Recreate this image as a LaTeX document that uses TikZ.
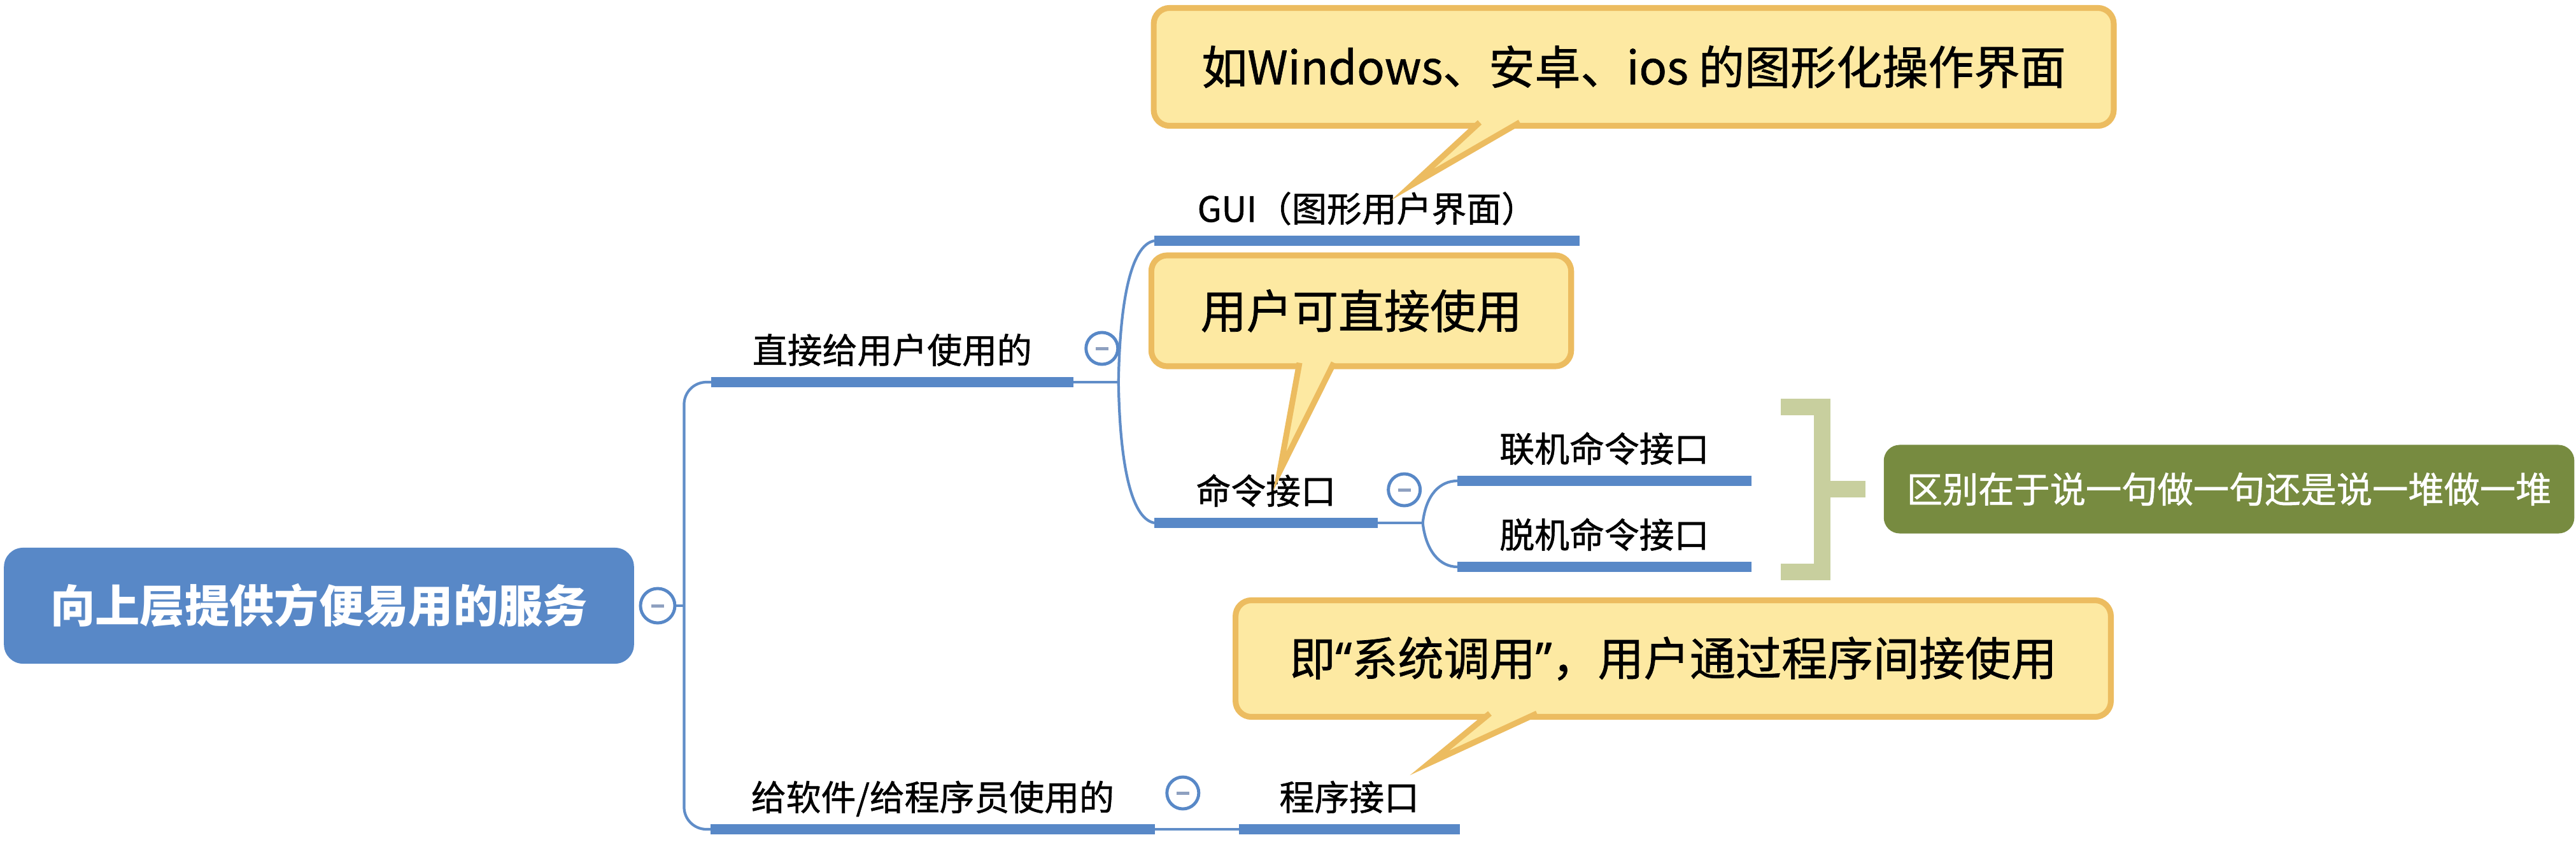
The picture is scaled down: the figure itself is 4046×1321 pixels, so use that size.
\documentclass[tikz,border=0pt]{standalone}
\usepackage{fontspec}
\setmainfont{Noto Sans CJK SC}
\newfontfamily\heavyfont[FakeBold=1]{Noto Sans CJK SC}
\newfontfamily\quotefont[FakeBold=1]{Noto Sans}
\usetikzlibrary{positioning, calc}

\definecolor{mapblue}{RGB}{88,136,199}
\definecolor{linkblue}{RGB}{96,141,200}
\definecolor{minusgray}{RGB}{142,160,192}
\definecolor{notefill}{RGB}{253,233,162}
\definecolor{noteedge}{RGB}{236,188,96}
\definecolor{bracegreen}{RGB}{200,207,158}
\definecolor{sumgreen}{RGB}{119,139,64}

\begin{document}
\begin{tikzpicture}[
  x=0.01cm, y=-0.01cm,
  root/.style={fill=mapblue, text=white, rounded corners=0.3cm, minimum width=9.89cm, minimum height=1.82cm, font=\bfseries\fontsize{20}{24}\selectfont},
  topic/.style={anchor=south west, inner xsep=0pt, inner ysep=0.29cm, text depth=0pt, font=\heavyfont\fontsize{15.6}{18}\selectfont},
  bar/.style={draw=mapblue, line width=4.3pt},
  link/.style={draw=linkblue, line width=1.2pt},
  dot/.style={circle, draw=mapblue, fill=white, line width=1.4pt, minimum size=0.5cm, inner sep=0pt,
    path picture={\fill[minusgray] ($(path picture bounding box.center)+(-10,-2.5)$) rectangle ++(20,5);}},
  note/.style={draw=noteedge, fill=notefill, line width=2.6pt, rounded corners=0.25cm, font=\heavyfont\fontsize{20.5}{24}\selectfont},
  notetip/.style={draw=noteedge, fill=notefill, line width=2.6pt},
  brace/.style={draw=bracegreen, line width=7.4pt},
  summary/.style={fill=sumgreen, text=white, rounded corners=0.25cm, minimum width=10.84cm, minimum height=1.39cm, font=\heavyfont\fontsize{16}{20}\selectfont}
]
\useasboundingbox (0,0) rectangle (4046,1321);

% Root topic
\node[root] (root) at (501,951) {向上层提供方便易用的服务};
\node[dot, minimum size=0.54cm, right=0.07cm of root] (rootdot) {};

% Main branches
\node[topic, minimum width=5.67cm] (direct) at (1117,600) {直接给用户使用的};
\node[topic, minimum width=6.96cm] (soft) at (1116,1302) {给软件/给程序员使用的};

% Sub topics
\node[topic, minimum width=6.66cm] (gui) at (1813,378) {GUI（图形用户界面）};
\node[topic, minimum width=3.49cm] (cmd) at (1813,821) {命令接口};
\node[topic, minimum width=4.60cm] (online) at (2289,755) {联机命令接口};
\node[topic, minimum width=4.60cm] (offline) at (2289,890) {脱机命令接口};
\node[topic, minimum width=3.45cm, right=1.32cm of soft.south east, anchor=south west] (prog) {程序接口};

% Connectors
\coordinate (rootfork) at ($(rootdot.east)+(12,0)$);
\draw[link] (rootdot.east) -- (rootfork);
\draw[link, rounded corners=0.35cm] (rootfork) |- (direct.south west);
\draw[link, rounded corners=0.35cm] (rootfork) |- (soft.south west);

\draw[link] (direct.south east) -- ++(71,0) coordinate (directfork);
\draw[link] (directfork) .. controls +(2,-122) and +(-38,7) .. (gui.south west);
\draw[link] (directfork) .. controls +(2,122) and +(-38,-7) .. (cmd.south west);

\draw[link] (cmd.south east) -- ++(71,0) coordinate (cmdfork);
\draw[link] (cmdfork) .. controls +(5,-45) and +(-27,0) .. (online.south west);
\draw[link] (cmdfork) .. controls +(5,45) and +(-27,0) .. (offline.south west);

\draw[link] (soft.south east) -- (prog.south west);

% Underlines
\foreach \t in {direct,soft,gui,cmd,online,offline,prog}
  \draw[bar] (\t.south west) -- (\t.south east);

% Collapse buttons
\node[dot] (directdot) at ($(direct.south east)+(45,-53)$) {};
\node[dot] (cmddot) at ($(cmd.south east)+(42,-52)$) {};
\node[dot] (softdot) at ($(soft.south east)+(44,-57)$) {};

% Summary bracket
\coordinate (bracetop) at (2797,639);
\coordinate (bracebot) at (2797,898);
\coordinate (bracespine) at (2862,768);
\coordinate (bracemid) at (2930,768);
\draw[brace] (bracetop) -| (bracespine) |- (bracebot);
\draw[brace] (bracespine) -- (bracemid);
\node[summary, right=0.28cm of bracemid] (sum) {区别在于说一句做一句还是说一堆做一堆};

% Callouts
\node[note, minimum width=15.07cm, minimum height=1.85cm] (note1) at (2566,105) {如Windows、安卓、ios 的图形化操作界面};
\coordinate (tip1) at (2218,290);
\filldraw[notetip] ($(note1.south)+(-242,-10)$) -- (tip1) -- ($(note1.south)+(-179,-10)$);

\node[note, minimum width=6.59cm, minimum height=1.74cm] (note2) at (2138,488) {用户可直接使用};
\coordinate (tip2) at (2010,740);
\filldraw[notetip] ($(note2.south)+(-97,-10)$) -- (tip2) -- ($(note2.south)+(-43,-10)$);

\node[note, minimum width=13.74cm, minimum height=1.83cm] (note3) at (2628,1034) {即{\quotefont “}系统调用{\quotefont ”}，用户通过程序间接使用};
\coordinate (tip3) at (2245,1198);
\filldraw[notetip] ($(note3.south)+(-288,-10)$) -- (tip3) -- ($(note3.south)+(-214,-10)$);

\end{tikzpicture}
\end{document}
